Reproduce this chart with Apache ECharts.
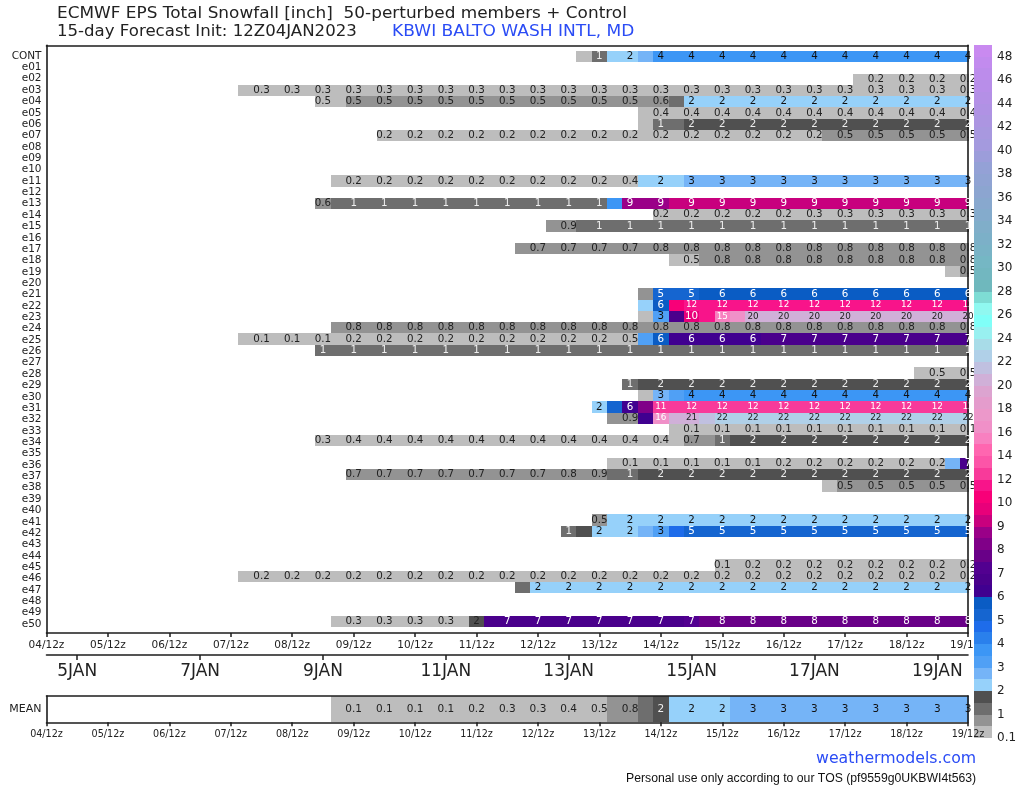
<!DOCTYPE html>
<html><head><meta charset="utf-8">
<script src="https://cdn.jsdelivr.net/npm/echarts@6/dist/echarts.min.js"></script>
<style>html,body{margin:0;padding:0;background:#fff}#c{width:1024px;height:788px}</style>
</head><body><div id="c"></div>
<script>
const rowNames = ['CONT','e01','e02','e03','e04','e05','e06','e07','e08','e09','e10','e11','e12','e13','e14','e15','e16','e17','e18','e19','e20','e21','e22','e23','e24','e25','e26','e27','e28','e29','e30','e31','e32','e33','e34','e35','e36','e37','e38','e39','e40','e41','e42','e43','e44','e45','e46','e47','e48','e49','e50'];
const dayTicks = ['04/12z','05/12z','06/12z','07/12z','08/12z','09/12z','10/12z','11/12z','12/12z','13/12z','14/12z','15/12z','16/12z','17/12z','18/12z','19/12z'];
const dateTickPos = [2,10,18,26,34,42,50,58];
const dateTickNames = ['5JAN','7JAN','9JAN','11JAN','13JAN','15JAN','17JAN','19JAN'];
const barTicks = ['0.1','1','2','3','4','5','6','7','8','9','10','12','14','16','18','20','22','24','26','28','30','32','34','36','38','40','42','44','46','48'];
// lower bound of each colour-bar segment
const levels = [0.1,0.5,1,1.5,2,2.5,3,3.5,4,4.5,5,5.5,6,6.5,7,7.5,8,8.5,9,9.5,10,11,12,13,14,15,16,17,18,19,20,21,22,23,24,25,26,27,28,29,30,31,32,33,34,35,36,37,38,39,40,41,42,43,44,45,46,47,48];
const colours = ['#bdbdbd','#939393','#6e6e6e','#505050','#96d1fa','#75b4f7','#50a0f5','#3c96f5','#2a80ec','#1e6cea','#1565d0','#0a5cc4','#400090','#4a008c','#520090','#690088','#800088','#9a0088','#c8007e','#e8007a','#f80078','#f8148a','#f83a9a','#fc55a8','#ff66b0','#f880c0','#f090c8','#ec98ca','#e49ccc','#dca4d0','#d0b0d8','#c0c0e0','#b0d0e8','#a8dce8','#98f0f0','#80fff8','#90f8f0','#7edcd4','#6fb8bd','#72b7c0','#75b7c4','#79b3c6','#7cb0c8','#80aec9','#84abcc','#88a8ce','#8ca5d0','#90a3d3','#94a1d6','#9c9dda','#a49ade','#a898df','#ac95e1','#b092e4','#b490e6','#b88ee9','#bc8ceb','#c28bee','#c98af0'];

const cont = [0.4,1.2,2.2,2.2,2.8,3.8,3.8,3.8,3.8,3.8,3.8,3.8,3.8,3.8,3.8,3.8,3.8,3.8,3.8,3.8,3.8,3.8,3.8,3.8,3.8,3.8];
const e02 = [0.2,0.2,0.2,0.2,0.2,0.2,0.2,0.2];
const e03 = [0.3,0.3,0.3,0.3,0.3,0.3,0.3,0.3,0.3,0.3,0.3,0.3,0.3,0.3,0.3,0.3,0.3,0.3,0.3,0.3,0.3,0.3,0.3,0.3,0.3,0.3,0.3,0.3,0.3,0.3,0.3,0.3,0.3,0.3,0.3,0.3,0.3,0.3,0.3,0.3,0.3,0.3,0.3,0.3,0.3,0.3,0.3,0.3];
const e04 = [0.49,0.49,0.5,0.5,0.5,0.5,0.5,0.5,0.5,0.5,0.5,0.5,0.5,0.5,0.5,0.5,0.5,0.5,0.5,0.5,0.5,0.5,0.6,1.2,2.2,2.2,2.2,2.2,2.2,2.2,2.2,2.2,2.2,2.2,2.2,2.2,2.2,2.2,2.2,2.2,2.2,2.2,2.2];
const e05 = [0.4,0.4,0.4,0.4,0.4,0.4,0.4,0.4,0.4,0.4,0.4,0.4,0.4,0.4,0.4,0.4,0.4,0.4,0.4,0.4,0.4,0.4];
const e06 = [0.4,1.2,1.2,1.8,1.8,1.8,1.8,1.8,1.8,1.8,1.8,1.8,1.8,1.8,1.8,1.8,1.8,1.8,1.8,1.8,1.8,1.8];
const e07 = [0.2,0.2,0.2,0.2,0.2,0.2,0.2,0.2,0.2,0.2,0.2,0.2,0.2,0.2,0.2,0.2,0.2,0.2,0.2,0.2,0.2,0.2,0.2,0.2,0.2,0.2,0.2,0.2,0.2,0.5,0.5,0.5,0.5,0.5,0.5,0.5,0.5,0.5,0.5];
const e11 = [0.2,0.2,0.2,0.2,0.2,0.2,0.2,0.2,0.2,0.2,0.2,0.2,0.2,0.2,0.2,0.2,0.2,0.2,0.2,0.4,2.2,2.2,2.2,2.8,2.8,2.8,2.8,2.8,2.8,2.8,2.8,2.8,2.8,2.8,2.8,2.8,2.8,2.8,2.8,2.8,2.8,2.8];
const e13 = [0.6,1.2,1.2,1.2,1.2,1.2,1.2,1.2,1.2,1.2,1.2,1.2,1.2,1.2,1.2,1.2,1.2,1.2,1.2,3.8,8.8,8.8,8.8,9.2,9.2,9.2,9.2,9.2,9.2,9.2,9.2,9.2,9.2,9.2,9.2,9.2,9.2,9.2,9.2,9.2,9.2,9.2,9.2];
const e14 = [0.2,0.2,0.2,0.2,0.2,0.2,0.2,0.2,0.2,0.2,0.3,0.3,0.3,0.3,0.3,0.3,0.3,0.3,0.3,0.3,0.3];
const e15 = [0.9,0.9,1.2,1.2,1.2,1.2,1.2,1.2,1.2,1.2,1.2,1.2,1.2,1.2,1.2,1.2,1.2,1.2,1.2,1.2,1.2,1.2,1.2,1.2,1.2,1.2,1.2,1.2];
const e17 = [0.7,0.7,0.7,0.7,0.7,0.7,0.7,0.7,0.7,0.8,0.8,0.8,0.8,0.8,0.8,0.8,0.8,0.8,0.8,0.8,0.8,0.8,0.8,0.8,0.8,0.8,0.8,0.8,0.8,0.8];
const e18 = [0.49,0.49,0.8,0.8,0.8,0.8,0.8,0.8,0.8,0.8,0.8,0.8,0.8,0.8,0.8,0.8,0.8,0.8,0.8,0.8];
const e19 = [0.4,0.5];
const e21 = [0.8,5.2,5.2,5.2,5.8,5.8,5.8,5.8,5.8,5.8,5.8,5.8,5.8,5.8,5.8,5.8,5.8,5.8,5.8,5.8,5.8,5.8];
const e22 = [2.2,5.8,10.5,11.8,11.8,11.8,11.8,11.8,11.8,11.8,11.8,11.8,11.8,11.8,11.8,11.8,11.8,11.8,11.8,11.8,11.8,11.8];
const e23 = [0.4,3.2,6.8,9.8,11.8,15.2,16.5,20.2,20.2,20.2,20.2,20.2,20.2,20.2,20.2,20.2,20.2,20.2,20.2,20.2,20.2,20.2];
const e24 = [0.8,0.8,0.8,0.8,0.8,0.8,0.8,0.8,0.8,0.8,0.8,0.8,0.8,0.8,0.8,0.8,0.8,0.8,0.8,0.8,0.8,0.8,0.8,0.8,0.8,0.8,0.8,0.8,0.8,0.8,0.8,0.8,0.8,0.8,0.8,0.8,0.8,0.8,0.8,0.8,0.8,0.8];
const e25 = [0.1,0.1,0.1,0.1,0.1,0.1,0.2,0.2,0.2,0.2,0.2,0.2,0.2,0.2,0.2,0.2,0.2,0.2,0.2,0.2,0.2,0.2,0.2,0.2,0.2,0.49,3.2,5.8,6.2,6.2,6.2,6.2,6.2,6.2,6.8,6.8,6.8,6.8,6.8,6.8,6.8,6.8,6.8,6.8,6.8,6.8,6.8,6.8];
const e26 = [1.2,1.2,1.2,1.2,1.2,1.2,1.2,1.2,1.2,1.2,1.2,1.2,1.2,1.2,1.2,1.2,1.2,1.2,1.2,1.2,1.2,1.2,1.2,1.2,1.2,1.2,1.2,1.2,1.2,1.2,1.2,1.2,1.2,1.2,1.2,1.2,1.2,1.2,1.2,1.2,1.2,1.2,1.2];
const e28 = [0.49,0.49,0.49,0.49];
const e29 = [1.2,1.8,1.8,1.8,1.8,1.8,1.8,1.8,1.8,1.8,1.8,1.8,1.8,1.8,1.8,1.8,1.8,1.8,1.8,1.8,1.8,1.8,1.8];
const e30 = [0.4,2.8,3.2,3.8,3.8,3.8,3.8,3.8,3.8,3.8,3.8,3.8,3.8,3.8,3.8,3.8,3.8,3.8,3.8,3.8,3.8,3.8];
const e31 = [2.2,5.2,6.2,8.2,12.2,12.2,12.2,12.2,12.2,12.2,12.2,12.2,12.2,12.2,12.2,12.2,12.2,12.2,12.2,12.2,12.2,12.2,12.2,12.2,12.2];
const e32 = [0.9,0.9,6.2,16.2,20.5,20.7,21.5,22.2,22.2,22.2,22.2,22.2,22.2,22.2,22.2,22.2,22.2,22.2,22.2,22.2,22.2,22.2,22.2,22.2];
const e33 = [0.1,0.1,0.1,0.1,0.1,0.1,0.1,0.1,0.1,0.1,0.1,0.1,0.1,0.1,0.1,0.1,0.1,0.1,0.1,0.1];
const e34 = [0.3,0.3,0.4,0.4,0.4,0.4,0.4,0.4,0.4,0.4,0.4,0.4,0.4,0.4,0.4,0.4,0.4,0.4,0.4,0.4,0.4,0.4,0.4,0.4,0.7,0.7,1.2,1.8,1.8,1.8,1.8,1.8,1.8,1.8,1.8,1.8,1.8,1.8,1.8,1.8,1.8,1.8,1.8];
const e36 = [0.1,0.1,0.1,0.1,0.1,0.1,0.1,0.1,0.1,0.1,0.2,0.2,0.2,0.2,0.2,0.2,0.2,0.2,0.2,0.2,0.2,0.2,2.8,6.8];
const e37 = [0.7,0.7,0.7,0.7,0.7,0.7,0.7,0.7,0.7,0.7,0.7,0.7,0.7,0.7,0.8,0.8,0.9,1.2,1.2,1.8,1.8,1.8,1.8,1.8,1.8,1.8,1.8,1.8,1.8,1.8,1.8,1.8,1.8,1.8,1.8,1.8,1.8,1.8,1.8,1.8,1.8];
const e38 = [0.4,0.5,0.5,0.5,0.5,0.5,0.5,0.5,0.5,0.5];
const e41 = [0.5,2.2,2.2,2.2,2.2,2.2,2.2,2.2,2.2,2.2,2.2,2.2,2.2,2.2,2.2,2.2,2.2,2.2,2.2,2.2,2.2,2.2,2.2,2.2,2.2];
const e42 = [1.2,1.8,2.2,2.2,2.2,2.8,3.2,4.8,5.2,5.2,5.2,5.2,5.2,5.2,5.2,5.2,5.2,5.2,5.2,5.2,5.2,5.2,5.2,5.2,5.2,5.2,5.2];
const e45 = [0.1,0.1,0.2,0.2,0.2,0.2,0.2,0.2,0.2,0.2,0.2,0.2,0.2,0.2,0.2,0.2,0.2];
const e46 = [0.2,0.2,0.2,0.2,0.2,0.2,0.2,0.2,0.2,0.2,0.2,0.2,0.2,0.2,0.2,0.2,0.2,0.2,0.2,0.2,0.2,0.2,0.2,0.2,0.2,0.2,0.2,0.2,0.2,0.2,0.2,0.2,0.2,0.2,0.2,0.2,0.2,0.2,0.2,0.2,0.2,0.2,0.2,0.2,0.2,0.2,0.2,0.2];
const e47 = [1.2,2.2,2.2,2.2,2.2,2.2,2.2,2.2,2.2,2.2,2.2,2.2,2.2,2.2,2.2,2.2,2.2,2.2,2.2,2.2,2.2,2.2,2.2,2.2,2.2,2.2,2.2,2.2,2.2,2.2];
const e50 = [0.3,0.3,0.3,0.3,0.3,0.3,0.3,0.3,0.3,1.8,6.8,6.8,6.8,6.8,6.8,6.8,6.8,6.8,6.8,6.8,6.8,6.8,6.8,7.2,7.8,7.8,7.8,7.8,7.8,7.8,7.8,7.8,7.8,7.8,7.8,7.8,7.8,7.8,7.8,7.8,7.8,7.8];
const mean = [0.1,0.1,0.1,0.1,0.1,0.1,0.1,0.1,0.1,0.2,0.2,0.3,0.3,0.3,0.3,0.4,0.4,0.49,0.7,0.8,1.2,1.8,2.2,2.2,2.2,2.2,2.8,2.8,2.8,2.8,2.8,2.8,2.8,2.8,2.8,2.8,2.8,2.8,2.8,2.8,2.8,2.8];

// [row name, first 6-hourly step with a value, values]
const members = [['CONT',35,cont],['e02',53,e02],['e03',13,e03],['e04',18,e04],['e05',39,e05],['e06',39,e06],['e07',22,e07],['e11',19,e11],['e13',18,e13],['e14',40,e14],['e15',33,e15],['e17',31,e17],['e18',41,e18],['e19',59,e19],['e21',39,e21],['e22',39,e22],['e23',39,e23],['e24',19,e24],['e25',13,e25],['e26',18,e26],['e28',57,e28],['e29',38,e29],['e30',39,e30],['e31',36,e31],['e32',37,e32],['e33',41,e33],['e34',18,e34],['e36',37,e36],['e37',20,e37],['e38',51,e38],['e41',36,e41],['e42',34,e42],['e45',44,e45],['e46',13,e46],['e47',31,e47],['e50',19,e50]];
const meanStart = 19;
const labelOverride = {'e31:40':'11'};
const inkOverride = {'e50:28':'#222'};

const FONT = 'DejaVu Sans';
const INK = '#1c1c1c';
function colourOf(v){let c=colours[0];for(let k=0;k<levels.length;k++){if(v>=levels[k])c=colours[k];}return c;}
function labelOf(v){return v<1?v.toFixed(1):String(Math.round(v));}
function inkOf(v){if(v<1)return '#222';if(v<2)return '#eee';if(v<5)return '#111';if(v<20)return '#fff';return '#222';}

const cellData=[],textData=[];
members.forEach(function(m){
  const r=rowNames.indexOf(m[0]);
  m[2].forEach(function(v,k){
    const i=m[1]+k;
    cellData.push([i,r,v]);
    if(i%2===0){
      const key=m[0]+':'+i;
      textData.push([i,r,v,labelOverride[key]||labelOf(v),inkOverride[key]||inkOf(v)]);
    }
  });
});
const meanCells=[],meanText=[];
mean.forEach(function(v,k){
  const i=meanStart+k;
  meanCells.push([i,1,v]);
  if(i%2===0)meanText.push([i,1,v,labelOf(v),inkOf(v)]);
});
const barData=levels.map(function(l,k){return [k,colours[k]];});

function renderRow(params,api){
  const i=api.value(0),r=api.value(1),v=api.value(2);
  const a=api.coord([i-0.5,r-0.5]),b=api.coord([i+0.5,r+0.5]);
  const x0=Math.round(a[0]),x1=Math.round(b[0]),y0=Math.round(a[1]),y1=Math.round(b[1]);
  return {type:'rect',shape:{x:x0,y:y0,width:x1-x0,height:y1-y0},style:{fill:colourOf(v)}};
}
function renderMean(params,api){
  const i=api.value(0),v=api.value(2);
  const a=api.coord([i-0.5,0]),b=api.coord([i+0.5,2]);
  const x0=Math.round(a[0]),x1=Math.round(b[0]);
  return {type:'rect',shape:{x:x0,y:b[1],width:x1-x0,height:a[1]-b[1]},style:{fill:colourOf(v)}};
}
function textRenderer(source,size){
  return function(params,api){
    const d=source[params.dataIndex];
    const p=api.coord([d[0],d[1]]);
    const fs=(size<10.5&&d[2]>=11)?8.8:size;
    return {type:'text',style:{text:d[3],x:p[0],y:p[1],align:'center',verticalAlign:'middle',fontSize:fs,fontFamily:FONT,fill:d[4]}};
  };
}
function renderBar(params,api){
  const k=api.value(0);
  const a=api.coord([0,k]),b=api.coord([1,k+1]);
  return {type:'rect',shape:{x:a[0],y:Math.round(b[1]),width:b[0]-a[0],height:Math.round(a[1])-Math.round(b[1])},style:{fill:barData[k][1]}};
}
function stretchedText(text,x,y,scaleX,fontSize,fontFamily,fill){
  return {type:'text',x:x,y:y,scaleX:scaleX,silent:true,style:{text:text,x:0,y:0,verticalAlign:'middle',fontSize:fontSize,fontFamily:fontFamily,fill:fill}};
}

const L=46.5,R=1024-968,BLUE='#2b4cf5';
const frame={lineStyle:{color:INK,width:1.6}};
const rowTickValues=rowNames.map(function(n,k){return k;});
const chart=echarts.init(document.getElementById('c'),null,{renderer:'canvas'});
chart.setOption({
  animation:false,backgroundColor:'#fff',
  graphic:{elements:[
    stretchedText('ECMWF EPS Total Snowfall [inch]  50-perturbed members + Control',57,14,1.09,15.5,FONT,'#222'),
    stretchedText('15-day Forecast Init: 12Z04JAN2023',57,32,1.07,15.5,FONT,'#222'),
    stretchedText('KBWI BALTO WASH INTL, MD',392,32,1.10,15.5,FONT,BLUE),
    stretchedText('weathermodels.com',816,759,1.05,15,FONT,BLUE),
    stretchedText('Personal use only according to our TOS (pf9559g0UKBWI4t563)',626,779,1.02,12,'Liberation Sans','#111')
  ]},
  grid:[
    {left:L,right:R,top:45.3,height:587.6},
    {left:L,right:R,top:654,height:1},
    {left:L,right:R,top:696,height:26.3},
    {left:974,width:18,top:45,height:693}
  ],
  xAxis:[
    {type:'value',gridIndex:0,min:0,max:60,interval:4,z:3,position:'bottom',axisLine:{show:true,onZero:false,lineStyle:frame.lineStyle},axisTick:{show:true,length:4,lineStyle:{color:INK,width:1.5}},splitLine:{show:false},
      axisLabel:{fontFamily:FONT,fontSize:10.5,color:'#222',margin:7,formatter:function(v){return dayTicks[v/4]||'';}}},
    {type:'value',gridIndex:0,min:0,max:60,z:3,position:'top',axisLine:{show:true,onZero:false,lineStyle:frame.lineStyle},axisTick:{show:false},axisLabel:{show:false},splitLine:{show:false}},
    {type:'value',gridIndex:1,min:0,max:60,z:3,position:'bottom',axisLine:{show:true,onZero:false,lineStyle:frame.lineStyle},splitLine:{show:false},
      axisTick:{show:true,length:5,customValues:dateTickPos,lineStyle:{color:INK,width:1.5}},
      axisLabel:{fontFamily:FONT,fontSize:17,color:'#222',margin:8,customValues:dateTickPos,formatter:function(v){return dateTickNames[dateTickPos.indexOf(v)]||'';}}},
    {type:'value',gridIndex:2,min:0,max:60,interval:4,z:6,position:'bottom',axisLine:{show:true,onZero:false,lineStyle:frame.lineStyle},axisTick:{show:true,length:4,lineStyle:{color:INK,width:1.5}},splitLine:{show:false},
      axisLabel:{fontFamily:FONT,fontSize:9.6,color:'#222',margin:7,formatter:function(v){return dayTicks[v/4]||'';}}},
    {type:'value',gridIndex:2,min:0,max:60,z:3,position:'top',axisLine:{show:true,onZero:false,lineStyle:frame.lineStyle},axisTick:{show:false},axisLabel:{show:false},splitLine:{show:false}},
    {type:'value',gridIndex:3,min:0,max:1,show:false}
  ],
  yAxis:[
    {type:'value',gridIndex:0,inverse:true,min:-1,max:51,interval:1,z:3,position:'left',axisLine:{show:true,onZero:false,lineStyle:frame.lineStyle},axisTick:{show:false},splitLine:{show:false},axisLabel:{show:false}},
    {type:'value',gridIndex:0,inverse:true,min:-1,max:51,z:3,position:'right',axisLine:{show:true,onZero:false,lineStyle:frame.lineStyle},axisTick:{show:false},axisLabel:{show:false},splitLine:{show:false}},
    {type:'value',gridIndex:1,min:0,max:1,show:false},
    {type:'value',gridIndex:2,min:0,max:2,interval:1,z:3,position:'left',axisLine:{show:true,onZero:false,lineStyle:frame.lineStyle},axisTick:{show:false},splitLine:{show:false},
      axisLabel:{fontFamily:FONT,fontSize:11,color:'#222',margin:5,formatter:function(v){return v===1?'MEAN':'';}}},
    {type:'value',gridIndex:2,min:0,max:2,z:3,position:'right',axisLine:{show:true,onZero:false,lineStyle:frame.lineStyle},axisTick:{show:false},axisLabel:{show:false},splitLine:{show:false}},
    {type:'value',gridIndex:3,min:0,max:59,interval:2,position:'right',axisLine:{show:false},axisTick:{show:false},splitLine:{show:false},
      axisLabel:{fontFamily:FONT,fontSize:12,color:'#222',margin:5,showMaxLabel:false,formatter:function(v){return barTicks[v/2]||'';}}},
    {type:'value',gridIndex:0,inverse:true,min:-0.942,max:50.78,z:3,position:'left',axisLine:{show:false},axisTick:{show:false},splitLine:{show:false},
      axisLabel:{fontFamily:FONT,fontSize:10.5,color:'#222',margin:5,customValues:rowTickValues,formatter:function(v){return rowNames[v]||'';}}}
  ],
  series:[
    {type:'custom',name:'cells',xAxisIndex:0,yAxisIndex:0,clip:true,z:2,silent:true,encode:{x:0,y:1},data:cellData,renderItem:renderRow},
    {type:'custom',name:'cell labels',xAxisIndex:0,yAxisIndex:0,clip:false,z:4,silent:true,encode:{x:0,y:1},data:textData,renderItem:textRenderer(textData,10.3)},
    {type:'custom',name:'mean',xAxisIndex:3,yAxisIndex:3,clip:true,z:2,silent:true,encode:{x:0,y:1},data:meanCells,renderItem:renderMean},
    {type:'custom',name:'mean labels',xAxisIndex:3,yAxisIndex:3,clip:false,z:4,silent:true,encode:{x:0,y:1},data:meanText,renderItem:textRenderer(meanText,10.5)},
    {type:'custom',name:'colour bar',xAxisIndex:5,yAxisIndex:5,clip:false,z:5,silent:true,encode:{y:0},data:barData.map(function(b){return [b[0]];}),renderItem:renderBar}
  ]
});
</script></body></html>
